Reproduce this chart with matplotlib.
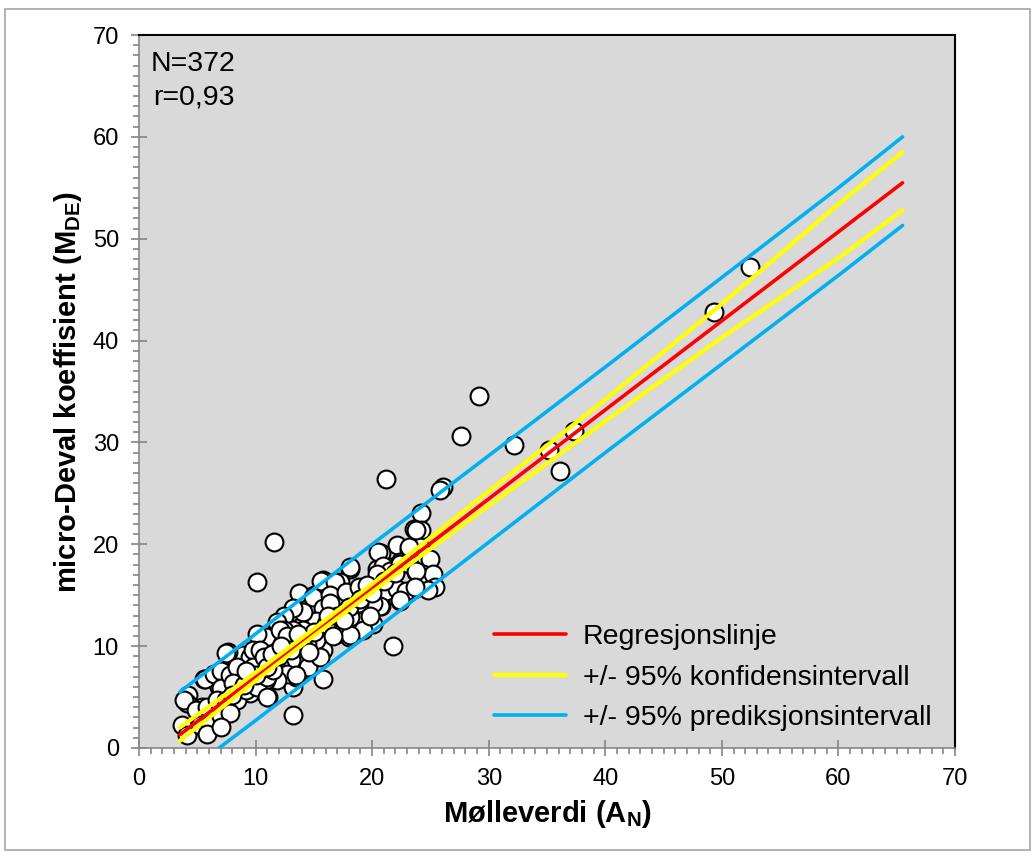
import matplotlib
matplotlib.use("Agg")
import matplotlib.pyplot as plt
from matplotlib.patches import Rectangle
from matplotlib.ticker import MultipleLocator

plt.rcParams["font.family"] = ["Liberation Sans", "DejaVu Sans"]
plt.rcParams["mathtext.fontset"] = "custom"
plt.rcParams["mathtext.rm"] = "Liberation Sans:bold"
plt.rcParams["mathtext.default"] = "rm"

# Målepunkter
moelle = [52.4, 49.3, 37.3, 35.2, 36.1, 32.2, 29.2, 27.6, 26.1, 25.8, 21.2, 11.6, 10.1, 21.8, 13.2,
          24.2, 24.2, 23.6, 22.1, 20.8, 23.2, 24.1, 25.0, 20.4, 21.5, 22.4, 23.8, 24.4, 25.2, 25.4,
          24.8, 23.6, 22.2, 21.2, 20.4, 20.8, 22.4, 20.1, 18.1, 17.2, 15.8, 15.0, 13.7, 13.2, 16.4,
          17.5, 19.0, 19.2, 18.7, 18.0, 17.0, 15.8, 14.8, 13.9, 13.8, 12.9, 11.8, 11.8, 10.8, 15.2,
          15.8, 14.4, 15.8, 11.1, 13.2, 13.5, 12.7, 11.8, 10.7, 10.1, 8.9, 7.6, 8.4, 9.5, 7.5,
          6.9, 8.1, 9.5, 5.6, 6.4, 4.2, 4.1, 5.4, 6.7, 7.8, 7.2, 6.1, 5.1, 3.7, 4.1,
          18.1, 15.6, 16.8, 14.9, 16.4, 17.8, 18.9, 20.5, 23.2, 23.8, 20.9, 21.5, 22.4, 23.2, 23.8,
          20.4, 21.2, 22.1, 22.9, 23.7, 20.7, 20.1, 22.4, 18.9, 18.1, 19.2, 17.5, 18.1, 16.9, 15.8,
          16.4, 15.2, 14.1, 13.2, 12.4, 11.8, 14.1, 13.2, 12.4, 15.2, 14.4, 13.5, 11.8, 10.9, 10.1,
          14.5, 13.0, 12.1, 11.2, 10.4, 15.5, 12.7, 13.5, 11.8, 10.9, 9.5, 9.8,
          3.9, 5.7, 4.9, 5.8, 5.2, 6.1, 5.8, 6.4, 7.0, 7.0, 6.7, 7.5, 7.8, 7.5, 8.4,
          7.0, 7.8, 7.0, 8.7, 9.8, 9.2, 10.1, 11.0, 11.5, 11.0, 12.1, 12.7, 10.4, 10.7, 8.4, 8.1,
          8.0, 9.0, 10.0, 11.0, 12.0, 13.0, 14.0, 15.0, 16.0, 17.0, 18.0, 19.0, 20.0, 21.0, 22.0,
          9.2, 11.4, 13.6, 16.2, 17.6, 19.6, 14.6, 12.2, 16.6, 19.8]
microdeval = [47.2, 42.8, 31.1, 29.3, 27.2, 29.7, 34.6, 30.6, 25.6, 25.3, 26.4, 20.2, 16.3, 10.0, 3.2,
              23.1, 21.4, 21.5, 19.9, 19.1, 19.4, 19.7, 18.6, 17.6, 17.8, 18.3, 17.3, 17.1, 17.1, 15.8,
              15.5, 15.6, 15.5, 15.6, 15.8, 13.9, 14.4, 12.2, 17.6, 16.3, 16.5, 15.0, 15.2, 13.5, 14.8,
              14.5, 15.5, 13.9, 12.5, 10.9, 11.2, 11.9, 12.5, 12.9, 11.9, 10.9, 10.6, 12.2, 10.9, 9.6,
              9.6, 7.8, 6.8, 5.0, 6.0, 7.0, 7.6, 7.0, 6.8, 8.6, 9.1, 9.4, 7.3, 7.0, 7.6,
              6.0, 5.4, 5.4, 6.8, 7.0, 5.2, 4.4, 4.0, 4.0, 4.5, 3.1, 2.6, 2.3, 2.3, 1.3,
              17.8, 16.4, 16.3, 14.8, 15.0, 15.3, 15.8, 19.2, 19.7, 21.4, 17.9, 17.4, 18.1, 18.1, 17.4,
              17.1, 15.4, 15.6, 15.4, 15.8, 13.9, 14.2, 14.5, 14.2, 12.9, 11.6, 11.6, 11.1, 13.4, 13.7,
              14.2, 12.5, 13.4, 13.7, 13.0, 12.4, 11.6, 11.6, 11.6, 10.6, 10.2, 10.3, 10.3, 10.9, 11.2,
              8.0, 8.6, 8.0, 7.6, 7.0, 8.9, 7.3, 7.2, 6.7, 6.7, 8.9, 9.6,
              4.7, 6.8, 3.7, 4.0, 2.3, 2.4, 1.4, 7.3, 7.6, 5.9, 4.7, 9.3, 7.2, 4.7, 4.7,
              3.1, 3.4, 2.1, 6.7, 8.0, 5.7, 6.0, 7.0, 7.7, 5.0, 11.6, 11.0, 9.6, 8.9, 8.0, 6.4,
              5.2, 6.2, 7.2, 8.0, 9.0, 9.6, 10.6, 11.4, 12.2, 13.0, 13.8, 14.6, 15.2, 16.4, 17.2,
              7.6, 9.2, 11.2, 13.0, 12.6, 16.0, 9.4, 10.0, 11.0, 13.0]

# Regresjonslinje og intervaller (avlest)
linje_x = [3.5, 10, 15, 20, 30, 40, 50, 60, 65.5]
regresjon = [1.30, 6.98, 11.35, 15.72, 24.46, 33.20, 41.94, 50.68, 55.49]
konf_ovre = [2.0, 7.4, 11.7, 16.1, 25.2, 34.2, 43.6, 53.4, 58.5]
konf_nedre = [0.7, 6.6, 11.0, 15.3, 23.8, 32.1, 40.3, 48.1, 52.8]
pred_ovre = [5.5, 11.2, 15.6, 20.0, 28.7, 37.4, 46.2, 55.0, 60.0]
pred_nedre = [-2.9, 2.7, 7.1, 11.4, 20.2, 29.0, 37.7, 46.4, 51.3]

fig = plt.figure(figsize=(10.36, 8.56), dpi=100)
ax = fig.add_axes([139 / 1036, 1 - 748 / 856, (955 - 139) / 1036, (748 - 35) / 856])
fig.patches.append(Rectangle((5 / 1036, 1 - 850 / 856), 1025 / 1036, 841 / 856,
                             transform=fig.transFigure, fill=False,
                             edgecolor="#a6a6a6", linewidth=1.2))

ax.set_facecolor("#d9d9d9")
ax.scatter(moelle, microdeval, s=165, facecolor="white", edgecolor="black",
           linewidth=1.5, zorder=2)

ax.plot(linje_x, pred_ovre, color="#00b0f0", lw=2.6, solid_capstyle="round", zorder=3,
        label="+/- 95% prediksjonsintervall")
ax.plot(linje_x, pred_nedre, color="#00b0f0", lw=2.6, solid_capstyle="round", zorder=3)
ax.plot(linje_x, regresjon, color="#ff0000", lw=2.6, solid_capstyle="round", zorder=3,
        label="Regresjonslinje")
ax.plot(linje_x, konf_ovre, color="#ffff00", lw=3.0, solid_capstyle="round", zorder=4,
        label="+/- 95% konfidensintervall")
ax.plot(linje_x, konf_nedre, color="#ffff00", lw=3.0, solid_capstyle="round", zorder=4)

ax.set_xlim(0, 70)
ax.set_ylim(0, 70)
ax.xaxis.set_major_locator(MultipleLocator(10))
ax.yaxis.set_major_locator(MultipleLocator(10))
ax.xaxis.set_minor_locator(MultipleLocator(1))
ax.yaxis.set_minor_locator(MultipleLocator(1))
ax.tick_params(which="major", direction="inout", length=11, width=1.2, color="#868686",
               labelsize=17, pad=9)
ax.tick_params(which="minor", direction="out", length=4.3, width=1.2, color="#868686")

for side in ["left", "bottom"]:
    ax.spines[side].set_color("#868686")
    ax.spines[side].set_linewidth(1.2)
for side in ["top", "right"]:
    ax.spines[side].set_color("black")
    ax.spines[side].set_linewidth(1.5)

ax.set_xlabel("Mølleverdi (A$_{N}$)", fontsize=21, fontweight="bold", labelpad=6)
ax.set_ylabel("micro-Deval koeffisient (M$_{DE}$)", fontsize=21, fontweight="bold", labelpad=6)

ax.text(1.0, 67.2, "N=372", fontsize=20.5, va="center", ha="left")
ax.text(1.2, 63.9, "r=0,93", fontsize=20.5, va="center", ha="left")

handles, labels = ax.get_legend_handles_labels()
order = [1, 2, 0]
ax.legend([handles[i] for i in order], [labels[i] for i in order],
          loc="lower right", bbox_to_anchor=(0.985, 0.008), borderaxespad=0,
          frameon=False, fontsize=20.5, handlelength=2.5, labelspacing=0.5,
          handletextpad=0.6)

fig.savefig("out.png", dpi=100)
